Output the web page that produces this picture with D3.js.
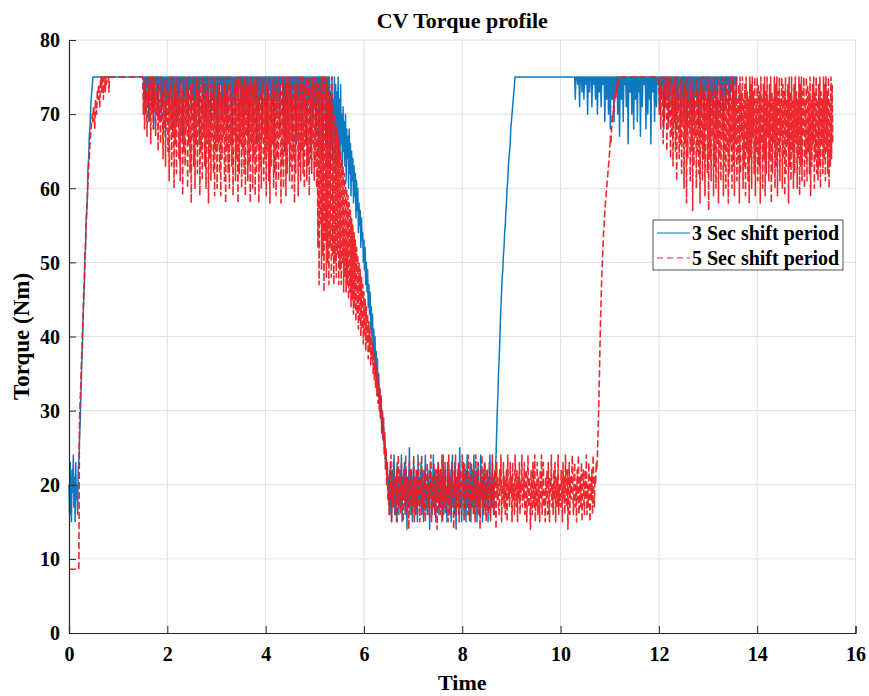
<!DOCTYPE html>
<html>
<head>
<meta charset="utf-8">
<script src="https://cdn.jsdelivr.net/npm/d3@7/dist/d3.min.js"></script>
<style>
  body { margin: 0; background: #fff; }
  text { font-family: "Liberation Serif", "Times New Roman", serif; font-weight: bold; fill: #000; }
</style>
</head>
<body>
<svg id="chart" width="869" height="696"></svg>
<script>
// Sampled CV torque (Nm); one sample every SAMPLE_PERIOD seconds, 20 samples per row
const SAMPLE_PERIOD = 0.0125;

const xTicks = [0, 2, 4, 6, 8, 10, 12, 14, 16];
const yTicks = [0, 10, 20, 30, 40, 50, 60, 70, 80];
const seriesNames = ["3 Sec shift period", "5 Sec shift period"];

// 3 second shift period
const torque3s = [
  // launch (0 s)
  20,16,23,18,15,22,19,24,17,21,15,23,18,20,16,22,23,26,28,31,
  34,37,39,43,45,47,51,52,56,57,59,63,64,67,68,70,72,73,74,75,
  // hold at limit (0.5 s)
  75,75,75,75,75,75,75,75,75,75,75,75,75,75,75,75,75,75,75,75,
  75,75,75,75,75,75,75,75,75,75,75,75,75,75,75,75,75,75,75,75,
  75,75,75,75,75,75,75,75,75,75,75,75,75,75,75,75,75,75,75,75,
  75,75,75,75,75,75,75,75,75,75,75,75,75,75,75,75,75,75,75,75,
  // ripple at limit (1.5 s)
  75,75,72,75,75,70,75,74,75,75,69,75,73,75,75,71,75,75,68,75,
  74,75,75,72,75,70,75,75,73,75,69,75,75,71,75,74,75,67,75,75,
  72,75,75,70,75,73,75,75,68,75,74,75,71,75,75,69,75,72,75,75,
  70,75,74,75,75,67,75,72,75,75,71,75,73,75,69,75,75,74,75,70,
  75,75,72,75,68,75,75,73,75,71,75,75,66,75,74,75,75,70,75,72,
  75,75,69,75,73,75,75,71,75,74,75,68,75,75,72,75,70,75,75,73,
  75,67,75,75,71,75,74,75,75,69,75,72,75,75,70,75,73,75,68,75,
  75,74,75,71,75,75,66,75,72,75,75,70,75,73,75,75,69,75,74,75,
  71,75,75,68,75,72,75,75,70,75,74,75,67,75,75,71,75,73,75,75,
  69,75,72,75,75,66,75,74,75,70,75,75,72,75,68,75,75,73,75,71,
  75,75,67,75,72,75,74,75,75,69,75,71,75,75,66,75,73,75,70,75,
  75,72,75,68,75,75,74,75,70,75,75,65,75,72,75,75,69,75,73,75,
  71,75,75,67,75,74,75,70,75,75,66,75,72,75,75,69,75,73,75,68,
  75,75,71,75,74,75,66,75,70,75,75,72,75,65,75,73,75,69,75,75,
  71,75,67,75,74,75,65,75,70,75,73,75,64,75,68,75,72,75,66,75,
  // shift down (5.25 s)
  74,63,75,68,75,62,73,66,75,64,72,69,75,62,74,67,73,63,75,65,
  72,64,74,66,70,62,71,65,69,63,70,61,68,64,67,60,68,62,66,59,
  65,61,64,58,63,59,62,56,61,57,60,54,58,55,57,52,56,53,54,50,
  53,49,52,47,50,46,49,44,47,43,46,41,44,40,43,38,41,37,40,35,
  38,34,37,32,35,31,33,29,32,27,30,26,28,25,26,23,24,22,23,20,
  // low load (6.5 s)
  18,21,16,23,19,15,22,17,20,24,16,19,21,15,23,18,20,16,22,19,
  17,24,15,21,18,20,23,16,19,22,14,21,17,20,25,16,19,22,18,15,
  21,23,17,19,16,22,20,15,24,18,21,17,19,23,16,20,22,15,18,21,
  24,17,19,16,22,20,18,14,23,19,21,16,20,24,17,19,22,15,21,18,
  20,23,16,19,22,17,21,15,18,24,16,20,22,17,19,15,23,18,21,16,
  22,19,15,21,24,17,20,16,23,18,14,21,19,22,16,20,25,17,19,15,
  21,18,23,16,20,22,15,19,24,17,21,16,18,23,15,20,22,17,19,24,
  16,21,18,22,15,20,23,17,19,16,24,18,21,15,22,19,17,23,16,20,
  18,22,15,21,19,24,16,20,17,23,19,16,21,20,22,24,27,30,32,35,
  // shift up (8.75 s)
  37,39,42,44,46,48,49,51,52,54,55,57,58,60,61,63,64,65,66,68,
  69,70,71,72,73,74,75,75,75,75,75,75,75,75,75,75,75,75,75,75,
  // hold at limit (9.25 s)
  75,75,75,75,75,75,75,75,75,75,75,75,75,75,75,75,75,75,75,75,
  75,75,75,75,75,75,75,75,75,75,75,75,75,75,75,75,75,75,75,75,
  75,75,75,75,75,75,75,75,75,75,75,75,75,75,75,75,75,75,75,75,
  75,75,75,75,75,75,75,75,75,75,75,75,75,75,75,75,75,75,75,75,
  // ripple at limit (10.25 s)
  75,75,75,75,72,75,75,75,74,75,75,71,75,75,75,73,75,75,72,75,
  75,74,75,75,70,75,75,73,75,75,75,71,75,75,74,75,75,72,75,75,
  70,75,75,73,75,75,71,75,75,74,75,75,69,75,75,72,75,75,70,75,
  75,68,75,75,72,75,75,69,75,75,73,75,75,70,75,75,67,75,75,72,
  75,75,69,75,75,74,75,71,75,75,66,75,75,73,75,75,70,75,75,68,
  75,75,72,75,75,69,75,75,73,75,67,75,75,71,75,75,74,75,75,68,
  75,75,70,75,75,72,75,66,75,75,73,75,75,69,75,75,71,75,75,74,
  75,70,75,75,72,75,74,75,68,75,75,71,75,73,75,75,69,75,72,75,
  74,75,70,75,75,73,75,68,75,72,75,75,71,75,74,75,69,75,75,72,
  75,70,75,73,75,75,68,75,71,75,74,75,75,70,75,72,75,69,75,75,
  73,75,71,75,75,68,75,74,75,70,75,75,72,75,69,75,73,75,75,71,
  75,74,75,69,75,75,72,75,70,75,73,75,75,68,75,71,75,74,75,75,
  70,75,72,75,75,69,75,73,75,71,75,75,74,75,70,75,72,75,75,73,
  75,71,75,74,75,75,72,75,75
];

// 5 second shift period
const torque5s = [
  // launch (0 s)
  8.6,8.6,8.6,8.6,8.6,8.6,8.6,8.6,8.6,8.6,8.6,8.6,8.6,8.6,8.6,8.6,8.6,28,31,33,
  36,38,41,43,46,48,51,53,55,57,59,61,63,64,66,67,68,69,70,69,
  71,70,68,72,71,70,73,72,74,73,71,74,75,73,75,74,72,75,75,73,
  75,74,75,75,75,73,75,75,75,75,75,75,75,75,75,75,75,75,75,75,
  // hold at limit (1 s)
  75,75,75,75,75,75,75,75,75,75,75,75,75,75,75,75,75,75,75,75,
  75,75,75,75,75,75,75,75,75,75,75,75,75,75,75,75,75,75,75,75,
  // ripple at limit (1.5 s)
  75,70,74,68,75,72,73,67,75,71,74,69,75,66,73,70,75,68,74,71,
  75,67,73,70,75,65,74,69,72,66,75,71,73,64,75,68,74,63,72,69,
  75,65,73,61,74,68,75,63,72,67,75,60,74,66,73,62,75,69,72,64,
  75,61,74,67,73,59,75,65,72,63,74,68,75,60,73,66,75,62,74,58,
  73,67,75,63,72,60,74,66,75,62,73,69,75,59,74,65,72,61,75,67,
  74,63,75,60,73,66,75,58,72,64,74,61,75,67,73,62,75,59,74,65,
  72,60,75,66,74,62,73,59,75,64,72,67,75,61,74,58,73,65,75,62,
  74,60,75,66,73,63,72,59,75,67,74,61,75,64,73,58,75,62,72,66,
  75,60,74,65,72,62,75,59,73,67,75,61,74,63,72,58,75,66,74,60,
  73,64,75,59,74,62,75,66,72,58,75,63,73,60,74,67,75,61,72,64,
  75,59,74,65,73,61,75,58,72,63,74,66,75,60,73,62,75,59,74,64,
  72,61,75,67,74,58,73,63,75,60,72,65,74,59,75,62,73,66,75,61,
  74,63,75,60,72,64,75,58,73,62,74,67,75,59,72,63,75,61,74,65,
  75,62,73,60,74,66,75,61,72,63,75,59,74,64,73,62,75,66,74,61,
  // shift down (5 s)
  75,63,74,60,75,52,74,47,75,55,73,49,75,51,72,46,75,53,74,48,
  75,50,73,47,74,52,72,48,75,51,71,47,70,50,69,48,68,51,67,47,
  66,49,65,47,64,50,63,46,62,48,61,46,60,47,59,45,58,46,57,44,
  56,45,55,43,54,44,53,42,52,43,51,41,50,42,49,40,48,41,47,39,
  46,40,45,38,44,39,43,37,42,38,41,36,40,37,39,35,38,34,37,33,
  36,32,35,31,34,30,33,29,32,27,30,26,29,24,27,22,25,20,23,18,
  // low load (6.5 s)
  19,16,22,18,24,15,20,17,23,19,21,16,18,22,15,20,24,17,19,21,
  16,23,18,20,15,22,19,17,24,16,21,18,20,14,23,19,17,22,16,20,
  18,24,15,21,19,17,22,16,20,23,18,15,21,19,24,17,20,16,22,18,
  15,21,19,23,17,20,16,22,18,24,15,19,21,17,23,16,20,18,22,14,
  20,23,17,19,16,22,18,24,15,21,19,17,23,16,20,18,22,15,24,19,
  17,21,16,23,18,20,14,22,19,24,16,21,18,17,23,15,20,22,18,16,
  24,19,21,15,23,17,20,18,22,16,24,19,15,21,17,23,18,20,16,22,
  19,15,24,17,21,18,23,16,20,14,22,19,24,17,21,16,23,18,20,15,
  22,17,20,16,23,19,15,21,18,24,17,20,16,22,19,14,23,18,21,17,
  16,22,19,24,15,20,18,23,17,21,16,19,22,15,24,18,20,17,23,19,
  21,15,23,18,20,16,24,19,17,22,15,21,18,23,16,20,19,24,17,21,
  18,23,16,20,22,15,19,24,17,21,18,14,22,20,16,23,19,17,24,15,
  20,17,23,16,21,19,15,22,18,24,16,20,23,17,19,15,21,18,22,16,
  23,18,15,21,19,24,17,20,16,22,18,23,15,19,21,17,24,16,20,18,
  17,22,19,15,23,18,21,16,24,20,17,22,14,19,23,16,21,18,20,24,
  19,16,21,23,17,20,15,22,18,24,16,19,21,17,23,15,20,22,18,16,
  22,18,24,16,20,17,23,19,15,21,18,22,16,24,19,17,21,20,23,22,
  // shift up (10.75 s)
  24,27,30,34,38,42,45,48,50,52,54,55,57,58,59,60,61,62,63,64,
  65,67,66,68,70,69,71,70,72,73,72,74,73,75,74,75,75,75,75,75,
  // hold at limit (11.25 s)
  75,75,75,75,75,75,75,75,75,75,75,75,75,75,75,75,75,75,75,75,
  75,75,75,75,75,75,75,75,75,75,75,75,75,75,75,75,75,75,75,75,
  75,75,75,75,75,75,75,75,75,75,75,75,75,75,75,75,75,75,75,75,
  // ripple at limit (12 s)
  75,70,74,68,75,72,73,66,75,69,74,71,75,65,73,68,75,70,72,64,
  75,67,74,63,73,69,75,65,72,61,75,68,74,64,73,66,75,62,72,69,
  75,60,74,66,73,58,75,64,72,68,75,61,74,65,73,57,75,63,72,67,
  74,60,75,65,73,62,72,58,75,66,74,61,75,64,73,59,75,68,72,62,
  75,57,74,64,73,61,75,67,72,59,74,63,75,60,73,66,75,58,72,64,
  74,61,75,67,73,59,72,63,75,60,74,65,75,58,73,62,75,66,72,60,
  75,63,74,59,73,66,75,61,72,64,74,58,75,62,73,67,75,60,72,63,
  74,59,75,65,73,61,72,58,75,64,74,60,75,67,73,62,75,59,72,65,
  75,61,74,63,73,58,75,66,72,60,74,64,75,59,73,62,75,67,72,61,
  74,64,75,58,73,62,72,66,75,60,74,63,75,59,73,65,75,61,72,67,
  75,60,74,64,73,59,75,62,72,66,74,58,75,63,73,61,75,65,72,60,
  74,62,75,66,73,60,72,64,75,59,74,63,75,61,73,67,75,60,72,64,
  75,61,74,65,73,62,75,59,72,63,74,66,75,60,73,64,75,62,72,61,
  74,63,75,60,73,66,72,62,75,64,74,61,75,65,73,62,75,60,72,63,
  75,64,74,66
];

const svg = d3.select("#chart");
const plot = { left: 69, right: 855.5, top: 40, bottom: 633 };

const x = d3.scaleLinear().domain([0, 16]).range([plot.left, plot.right]);
const y = d3.scaleLinear().domain([0, 80]).range([plot.bottom, plot.top]);

// grid
const grid = svg.append("g").attr("stroke", "#dedede").attr("stroke-width", 1);
grid.selectAll("line.gx").data(xTicks.filter(d => d > 0)).join("line")
  .attr("x1", d => x(d)).attr("x2", d => x(d))
  .attr("y1", plot.top).attr("y2", plot.bottom);
grid.selectAll("line.gy").data(yTicks.filter(d => d > 0)).join("line")
  .attr("x1", plot.left).attr("x2", plot.right)
  .attr("y1", d => y(d)).attr("y2", d => y(d));

// series
const line = d3.line()
  .x((d, i) => x(i * SAMPLE_PERIOD))
  .y(d => y(d));

const colors = ["#0072BD", "#EC1C24"];
const redDash = "7,3";

svg.append("path").datum(torque3s)
  .attr("fill", "none").attr("stroke", colors[0])
  .attr("stroke-width", 1.5).attr("stroke-opacity", 0.95)
  .attr("stroke-linejoin", "round")
  .attr("d", line);

svg.append("path").datum(torque5s)
  .attr("fill", "none").attr("stroke", colors[1])
  .attr("stroke-width", 1.6).attr("stroke-opacity", 0.95)
  .attr("stroke-dasharray", redDash)
  .attr("stroke-linejoin", "round")
  .attr("d", line);

// axes
const xAxis = d3.axisBottom(x).tickValues(xTicks).tickSize(-7).tickPadding(14)
  .tickFormat(d3.format("d"));
const yAxis = d3.axisLeft(y).tickValues(yTicks).tickSize(-7).tickPadding(9)
  .tickFormat(d3.format("d"));

const gx = svg.append("g").attr("transform", `translate(0,${plot.bottom})`).call(xAxis);
const gy = svg.append("g").attr("transform", `translate(${plot.left},0)`).call(yAxis);
[gx, gy].forEach(g => {
  g.select(".domain").attr("stroke", "#262626").attr("stroke-width", 1.2);
  g.selectAll(".tick line").attr("stroke", "#262626");
  g.selectAll(".tick text")
    .attr("font-family", "Liberation Serif, Times New Roman, serif")
    .attr("font-weight", "bold").attr("font-size", 20).attr("fill", "#000");
});
gx.selectAll(".tick text").attr("dy", "0.71em");
gy.selectAll(".tick text").attr("dy", "0.34em");

// titles
svg.append("text").attr("x", (plot.left + plot.right) / 2).attr("y", 28)
  .attr("text-anchor", "middle").attr("font-size", 22).text("CV Torque profile");
svg.append("text").attr("x", (plot.left + plot.right) / 2).attr("y", 690)
  .attr("text-anchor", "middle").attr("font-size", 22).text("Time");
svg.append("text")
  .attr("transform", `translate(29,${(plot.top + plot.bottom) / 2}) rotate(-90)`)
  .attr("text-anchor", "middle").attr("font-size", 23).text("Torque (Nm)");

// legend
const lg = svg.append("g").attr("transform", "translate(653,220)");
lg.append("rect").attr("width", 190).attr("height", 50)
  .attr("fill", "#fff").attr("stroke", "#262626").attr("stroke-width", 0.8);
const rows = [
  { name: seriesNames[0], color: colors[0], dash: null, y: 13 },
  { name: seriesNames[1], color: colors[1], dash: "6,4", y: 38 }
];
rows.forEach(r => {
  lg.append("line").attr("x1", 4).attr("x2", 37).attr("y1", r.y).attr("y2", r.y)
    .attr("stroke", r.color).attr("stroke-width", 1.2)
    .attr("stroke-dasharray", r.dash);
  lg.append("text").attr("x", 39).attr("y", r.y + 7).attr("font-size", 20).text(r.name);
});
</script>
</body>
</html>
